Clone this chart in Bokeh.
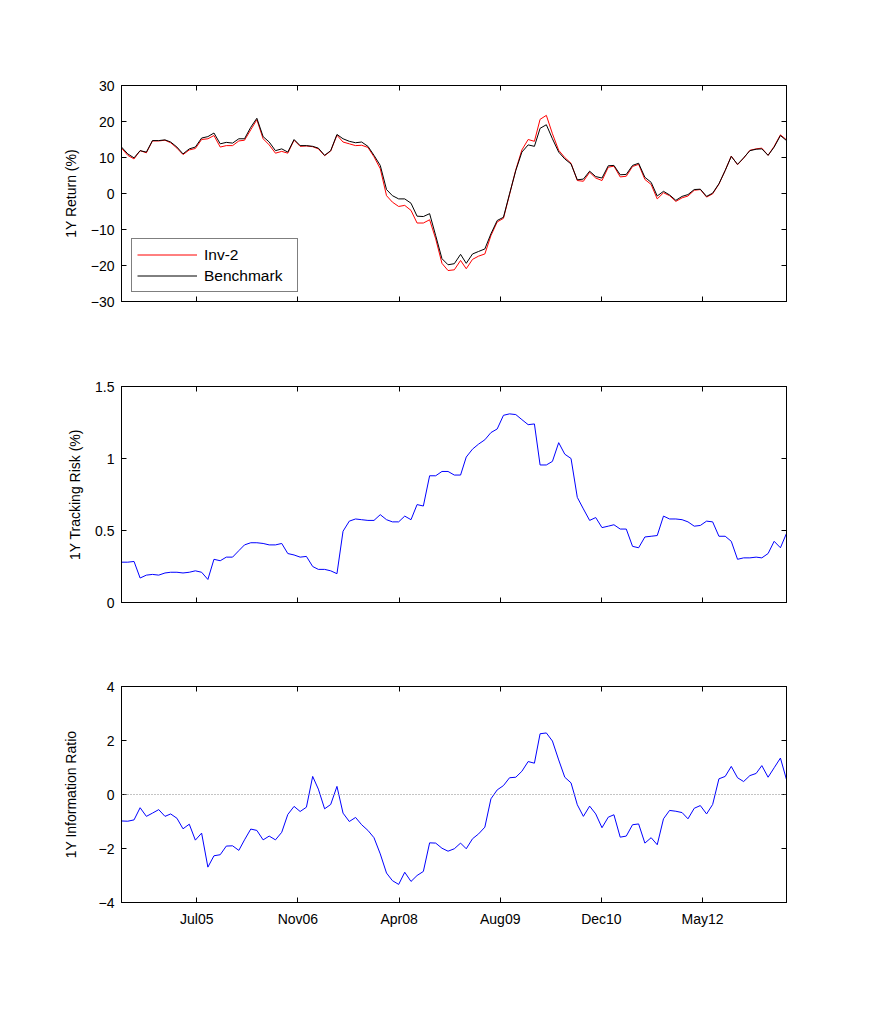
import pandas as pd
from bokeh.plotting import figure
from bokeh.layouts import column
from bokeh.models import (FixedTicker, DatetimeTickFormatter, LinearAxis, DatetimeAxis,
                          Span, Legend, LegendItem, Range1d, CustomJSTickFormatter)
from bokeh.embed import file_html
from bokeh.resources import INLINE

# ---------------- data ----------------
start_date = "2004-06-30"
n_months = 109

inv2_return = [
    12.6, 10.6, 9.6, 11.9, 11.3, 14.6, 14.6, 14.8, 14.1, 12.6,
    10.8, 12.1, 12.5, 15.0, 15.2, 16.1, 12.9, 13.3, 13.3, 14.6,
    14.8, 17.7, 20.5, 15.2, 13.5, 11.2, 11.7, 11.2, 14.8, 13.1,
    13.2, 13.0, 12.4, 10.5, 11.8, 16.2, 14.3, 13.8, 13.3, 13.4,
    12.8, 10.2, 6.9, -0.6, -2.4, -3.6, -3.3, -4.7, -8.2, -8.2,
    -7.3, -12.6, -19.4, -21.4, -21.2, -18.6, -20.9, -18.3, -17.4, -16.8,
    -11.7, -7.9, -6.9, -0.3, 6.6, 12.1, 15.0, 14.5, 20.6, 21.7,
    16.6, 12.0, 10.0, 8.4, 3.6, 3.4, 5.9, 4.3, 3.6, 7.3,
    7.6, 4.6, 4.8, 7.5, 8.1, 3.9, 2.5, -1.5, 0.2, -0.6,
    -2.2, -1.2, -0.7, 0.9, 1.1, -1.0, -0.1, 2.6, 6.4, 10.4,
    8.0, 9.8, 12.0, 12.4, 12.6, 10.6, 13.1, 16.3, 14.9,
]

benchmark_return = [
    12.9, 11.0, 9.9, 11.9, 11.5, 14.7, 14.7, 14.9, 14.3, 12.9,
    11.0, 12.4, 12.9, 15.4, 15.8, 16.8, 13.8, 14.2, 14.0, 15.2,
    15.2, 18.4, 20.9, 15.8, 14.3, 11.9, 12.4, 11.5, 15.0, 13.3,
    13.3, 13.1, 12.6, 10.6, 11.9, 16.4, 15.2, 14.5, 14.1, 14.3,
    13.1, 10.6, 7.8, 1.1, -0.6, -1.5, -1.5, -2.7, -6.3, -6.4,
    -5.6, -11.7, -18.1, -19.8, -19.5, -16.9, -19.4, -16.8, -16.1, -15.4,
    -11.2, -7.5, -6.6, -0.1, 6.4, 11.5, 13.5, 13.1, 18.1, 19.1,
    15.2, 11.5, 9.6, 8.2, 3.8, 4.0, 6.2, 4.7, 4.3, 7.7,
    7.8, 5.2, 5.3, 7.8, 8.4, 4.5, 3.1, -0.7, 0.6, -0.4,
    -1.9, -0.8, -0.3, 1.1, 1.2, -0.8, 0.1, 2.7, 6.4, 10.3,
    8.1, 9.9, 11.9, 12.3, 12.4, 10.6, 12.9, 16.1, 14.7,
]

tracking_risk = [
    0.28, 0.28, 0.285, 0.17, 0.19, 0.195, 0.19, 0.205, 0.21, 0.21,
    0.205, 0.21, 0.22, 0.21, 0.16, 0.30, 0.29, 0.315, 0.315, 0.36,
    0.40, 0.415, 0.415, 0.41, 0.40, 0.40, 0.41, 0.34, 0.33, 0.315,
    0.32, 0.25, 0.23, 0.23, 0.22, 0.20, 0.495, 0.565, 0.58, 0.575,
    0.57, 0.57, 0.61, 0.575, 0.56, 0.56, 0.60, 0.575, 0.68, 0.67,
    0.88, 0.88, 0.91, 0.91, 0.885, 0.885, 1.01, 1.065, 1.10, 1.13,
    1.18, 1.205, 1.30, 1.31, 1.305, 1.27, 1.235, 1.24, 0.955, 0.955,
    0.98, 1.11, 1.03, 1.00, 0.73, 0.65, 0.57, 0.59, 0.52, 0.53,
    0.54, 0.51, 0.51, 0.39, 0.38, 0.455, 0.46, 0.465, 0.60, 0.58,
    0.58, 0.575, 0.56, 0.53, 0.535, 0.565, 0.56, 0.46, 0.46, 0.425,
    0.30, 0.31, 0.31, 0.315, 0.31, 0.34, 0.425, 0.38, 0.48,
]

info_ratio = [
    -0.98, -0.99, -0.94, -0.49, -0.81, -0.69, -0.56, -0.81, -0.72, -0.88,
    -1.27, -1.10, -1.69, -1.43, -2.69, -2.27, -2.23, -1.91, -1.90, -2.07,
    -1.68, -1.28, -1.33, -1.68, -1.54, -1.68, -1.40, -0.74, -0.44, -0.63,
    -0.47, 0.67, 0.20, -0.53, -0.37, 0.30, -0.69, -1.00, -0.85, -1.12,
    -1.33, -1.60, -2.20, -2.91, -3.19, -3.33, -2.88, -3.22, -3.00, -2.85,
    -1.79, -1.80, -1.99, -2.10, -2.01, -1.80, -2.01, -1.64, -1.46, -1.21,
    -0.16, 0.17, 0.33, 0.62, 0.64, 0.86, 1.22, 1.16, 2.25, 2.28,
    1.98, 1.28, 0.64, 0.43, -0.38, -0.81, -0.43, -0.72, -1.23, -0.84,
    -0.75, -1.58, -1.54, -1.12, -1.09, -1.80, -1.60, -1.86, -0.90, -0.59,
    -0.62, -0.67, -0.90, -0.51, -0.41, -0.72, -0.37, 0.58, 0.67, 1.04,
    0.62, 0.48, 0.70, 0.78, 1.07, 0.64, 0.99, 1.35, 0.55,
]

x_tick_dates = ["2005-07-07", "2006-11-19", "2008-04-02",
                "2009-08-15", "2010-12-28", "2012-05-11"]

return_ticks = [-30, -20, -10, 0, 10, 20, 30]
risk_ticks = [0, 0.5, 1, 1.5]
ir_ticks = [-4, -2, 0, 2, 4]

# ---------------- build ----------------
dates = pd.date_range(start_date, periods=n_months, freq=pd.offsets.MonthEnd())
xs = list(dates.to_pydatetime())
tick_ms = [pd.Timestamp(d).value / 1e6 for d in x_tick_dates]

FONT = "Liberation Sans"
FRAME_W, FRAME_H = 665, 216
blank = CustomJSTickFormatter(code="return '';")


def make_fig(yr, yticks, ylabel, top, bottom, show_x, label_standoff):
    p = figure(frame_width=FRAME_W, frame_height=FRAME_H,
               x_axis_type="datetime", output_backend="svg",
               toolbar_location=None,
               min_border_left=121, min_border_right=60,
               min_border_top=top, min_border_bottom=bottom,
               x_range=Range1d(xs[0], xs[-1]), y_range=Range1d(*yr))
    p.grid.visible = False
    p.outline_line_color = "black"
    p.outline_line_width = 1
    p.background_fill_color = "white"
    p.border_fill_color = "white"

    xa = p.xaxis[0]
    xa.ticker = FixedTicker(ticks=tick_ms)
    xa.major_tick_in = 5
    xa.major_tick_out = 0
    xa.minor_tick_in = 0
    xa.minor_tick_out = 0
    xa.axis_line_color = "black"
    xa.major_tick_line_color = "black"
    if show_x:
        xa.formatter = DatetimeTickFormatter(
            days="%b%y", months="%b%y", years="%b%y", hours="%b%y",
            minutes="%b%y", seconds="%b%y", milliseconds="%b%y",
            microseconds="%b%y")
        xa.major_label_text_font = FONT
        xa.major_label_text_font_size = "14px"
        xa.major_label_text_color = "black"
        xa.major_label_standoff = 8
    else:
        xa.formatter = blank
        xa.major_label_standoff = 0

    ya = p.yaxis[0]
    ya.ticker = FixedTicker(ticks=yticks)
    ya.major_tick_in = 5
    ya.major_tick_out = 0
    ya.minor_tick_in = 0
    ya.minor_tick_out = 0
    ya.axis_line_color = "black"
    ya.major_tick_line_color = "black"
    ya.major_label_text_font = FONT
    ya.major_label_text_font_size = "14px"
    ya.major_label_text_color = "black"
    ya.major_label_standoff = 7
    ya.axis_label = ylabel
    ya.axis_label_text_font = FONT
    ya.axis_label_text_font_size = "14px"
    ya.axis_label_text_font_style = "normal"
    ya.axis_label_text_color = "black"
    ya.axis_label_standoff = label_standoff

    # mirrored ticks on top and right (MATLAB box style)
    ra = LinearAxis(ticker=FixedTicker(ticks=yticks), formatter=blank,
                    major_tick_in=5, major_tick_out=0,
                    minor_tick_in=0, minor_tick_out=0,
                    major_label_standoff=0, axis_line_color="black",
                    major_tick_line_color="black")
    p.add_layout(ra, "right")
    ta = DatetimeAxis(ticker=FixedTicker(ticks=tick_ms), formatter=blank,
                      major_tick_in=5, major_tick_out=0,
                      minor_tick_in=0, minor_tick_out=0,
                      major_label_standoff=0,
                      axis_line_color="black", major_tick_line_color="black")
    p.add_layout(ta, "above")
    return p


p1 = make_fig((-30, 30), return_ticks, "1Y Return (%)", 85, 20, False, 9)
r_inv = p1.line(xs, inv2_return, line_color="#ff0000", line_width=1)
r_bm = p1.line(xs, benchmark_return, line_color="#000000", line_width=1)
legend = Legend(items=[LegendItem(label="Inv-2", renderers=[r_inv]),
                       LegendItem(label="Benchmark", renderers=[r_bm])],
                location=(10, 9), orientation="vertical",
                label_text_font=FONT, label_text_font_size="15.5px",
                label_text_color="black",
                glyph_width=60, glyph_height=21, label_height=21, label_width=88,
                label_standoff=7, spacing=0, padding=5, margin=0,
                border_line_color="black", border_line_width=1,
                background_fill_color="white", background_fill_alpha=1.0)
p1.add_layout(legend, "center")

p2 = make_fig((0, 1.5), risk_ticks, "1Y Tracking Risk (%)", 65, 20, False, 9)
p2.line(xs, tracking_risk, line_color="#0000ff", line_width=1)

p3 = make_fig((-4, 4), ir_ticks, "1Y Information Ratio", 64, 40, True, 17)
zero = Span(location=0, dimension="width", line_color="#888888",
            line_dash="1 2", line_width=1)
p3.add_layout(zero)
p3.line(xs, info_ratio, line_color="#0000ff", line_width=1)

layout = column(p1, p2, p3, spacing=0)
open("out.html", "w").write(file_html(layout, INLINE))
